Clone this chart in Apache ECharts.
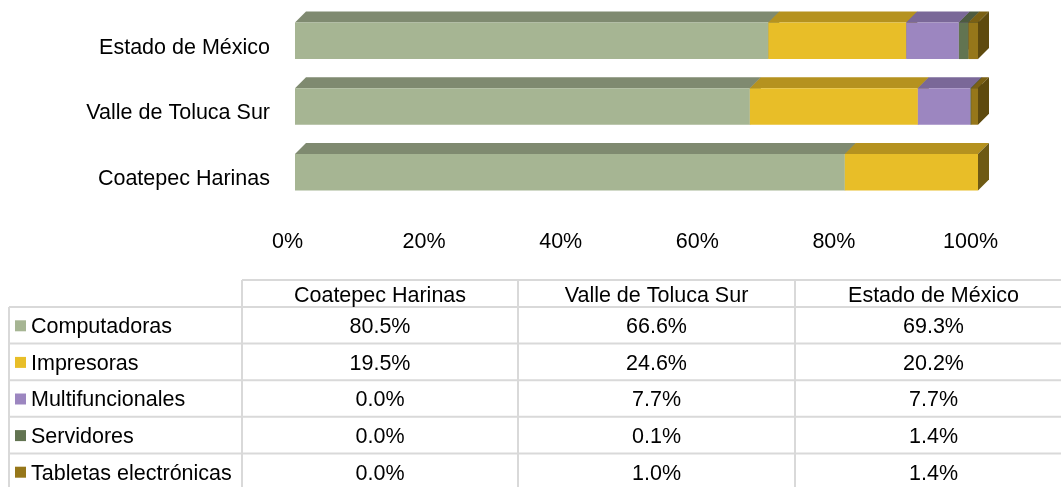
<!DOCTYPE html>
<html>
<head>
<meta charset="utf-8">
<script src="https://cdn.jsdelivr.net/npm/echarts@6/dist/echarts.min.js"></script>
<style>
  html, body { margin: 0; padding: 0; background: #fff; }
  #chart { width: 1061px; height: 487px; }
</style>
</head>
<body>
<div id="chart"></div>
<script>
var categorias = ['Coatepec Harinas', 'Valle de Toluca Sur', 'Estado de México'];
var productos = ['Computadoras', 'Impresoras', 'Multifuncionales', 'Servidores', 'Tabletas electrónicas'];
var computadoras = [80.5, 66.6, 69.3];
var impresoras = [19.5, 24.6, 20.2];
var multifuncionales = [0.0, 7.7, 7.7];
var servidores = [0.0, 0.1, 1.4];
var tabletas = [0.0, 1.0, 1.4];
var series = [computadoras, impresoras, multifuncionales, servidores, tabletas];

// colores: frente, cara superior, cara lateral
var colFrente = ['#a6b593', '#e8be28', '#9c86c0', '#627451', '#96771a'];
var colArriba = ['#7f8a70', '#b5921f', '#7a6898', '#4d5b40', '#7a6014'];
var colLado = ['#5f6853', '#6e5a14', '#5a4d70', '#3a4430', '#5e4a0e'];

var fuente = '"Liberation Sans", Arial, sans-serif';
var tam = 21.5;

var chartDom = document.getElementById('chart');
var myChart = echarts.init(chartDom);

var dx = 11, dy = 11;

function renderBarra(params, api) {
  var a = api.coord([api.value(0), api.value(2)]);
  var b = api.coord([api.value(1), api.value(2)]);
  var h = api.size([0, 1])[1] * 0.555;
  var x0 = a[0], x1 = b[0];
  var y0 = a[1] - h / 2, y1 = a[1] + h / 2;
  if (x1 - x0 <= 0) return;
  var i = params.seriesIndex;
  return {
    type: 'group',
    children: [
      {
        type: 'polygon',
        shape: { points: [[x0, y0], [x0 + dx, y0 - dy], [x1 + dx, y0 - dy], [x1, y0]] },
        style: { fill: colArriba[i] }
      },
      {
        type: 'polygon',
        shape: { points: [[x1, y0], [x1 + dx, y0 - dy], [x1 + dx, y1 - dy], [x1, y1]] },
        style: { fill: colLado[i] }
      },
      {
        type: 'rect',
        shape: { x: x0, y: y0, width: x1 - x0, height: y1 - y0 },
        style: { fill: colFrente[i] }
      }
    ]
  };
}

// acumulados para apilar
var acum = [0, 0, 0];
var seriesOpt = series.map(function (vals, i) {
  var data = vals.map(function (v, c) {
    var s = acum[c];
    acum[c] += v;
    return [s, s + v, c];
  });
  return {
    type: 'custom',
    name: productos[i],
    renderItem: renderBarra,
    encode: { x: [0, 1], y: 2 },
    data: data
  };
});

// tabla de datos
var tabla = [];
var colX = [242, 518, 795, 1072];
var encTop = 280, encBot = 307, filaH = 36.6;
var nFilas = productos.length;
var tablaBot = encBot + filaH * nFilas;
var linea = { stroke: '#d9d9d9', lineWidth: 2 };

tabla.push({ type: 'line', shape: { x1: colX[0], y1: encTop, x2: 1072, y2: encTop }, style: linea });
for (var r = 0; r <= nFilas; r++) {
  var yy = encBot + filaH * r;
  tabla.push({ type: 'line', shape: { x1: 9, y1: yy, x2: 1072, y2: yy }, style: linea });
}
tabla.push({ type: 'line', shape: { x1: 9, y1: encBot, x2: 9, y2: tablaBot }, style: linea });
colX.forEach(function (x) {
  tabla.push({ type: 'line', shape: { x1: x, y1: encTop, x2: x, y2: tablaBot }, style: linea });
});
categorias.forEach(function (c, j) {
  tabla.push({
    type: 'text',
    style: {
      text: c, x: (colX[j] + colX[j + 1]) / 2, y: (encTop + encBot) / 2 + 3,
      align: 'center', verticalAlign: 'middle',
      font: tam + 'px ' + fuente, fill: '#000'
    }
  });
});
productos.forEach(function (p, r) {
  var yc = encBot + filaH * r + filaH / 2;
  tabla.push({ type: 'rect', shape: { x: 15, y: yc - 5, width: 11, height: 11 }, style: { fill: colFrente[r] } });
  tabla.push({
    type: 'text',
    style: { text: p, x: 31, y: yc + 2, align: 'left', verticalAlign: 'middle', font: tam + 'px ' + fuente, fill: '#000' }
  });
  series[r].forEach(function (v, j) {
    tabla.push({
      type: 'text',
      style: {
        text: v.toFixed(1) + '%', x: (colX[j] + colX[j + 1]) / 2, y: yc + 2,
        align: 'center', verticalAlign: 'middle',
        font: tam + 'px ' + fuente, fill: '#000'
      }
    });
  });
});

var option = {
  animation: false,
  backgroundColor: '#fff',
  grid: { left: 295, right: 83, top: 8, bottom: 282 },
  xAxis: {
    type: 'value',
    min: 0,
    max: 100,
    interval: 20,
    axisLine: { show: false },
    axisTick: { show: false },
    splitLine: { show: false },
    axisLabel: {
      formatter: '{value}%',
      fontSize: tam,
      fontFamily: fuente,
      color: '#000',
      margin: 26,
      padding: [0, 15, 0, 0]
    }
  },
  yAxis: {
    type: 'category',
    data: categorias,
    axisLine: { show: false },
    axisTick: { show: false },
    splitLine: { show: false },
    axisLabel: {
      margin: 25,
      formatter: '{e|{value}}',
      rich: {
        e: {
          fontSize: tam,
          fontFamily: fuente,
          color: '#000',
          padding: [14, 0, 0, 0]
        }
      }
    }
  },
  series: seriesOpt,
  graphic: tabla
};

myChart.setOption(option);

window.onresize = () => {
  myChart.resize();
}
</script>
</body>
</html>
